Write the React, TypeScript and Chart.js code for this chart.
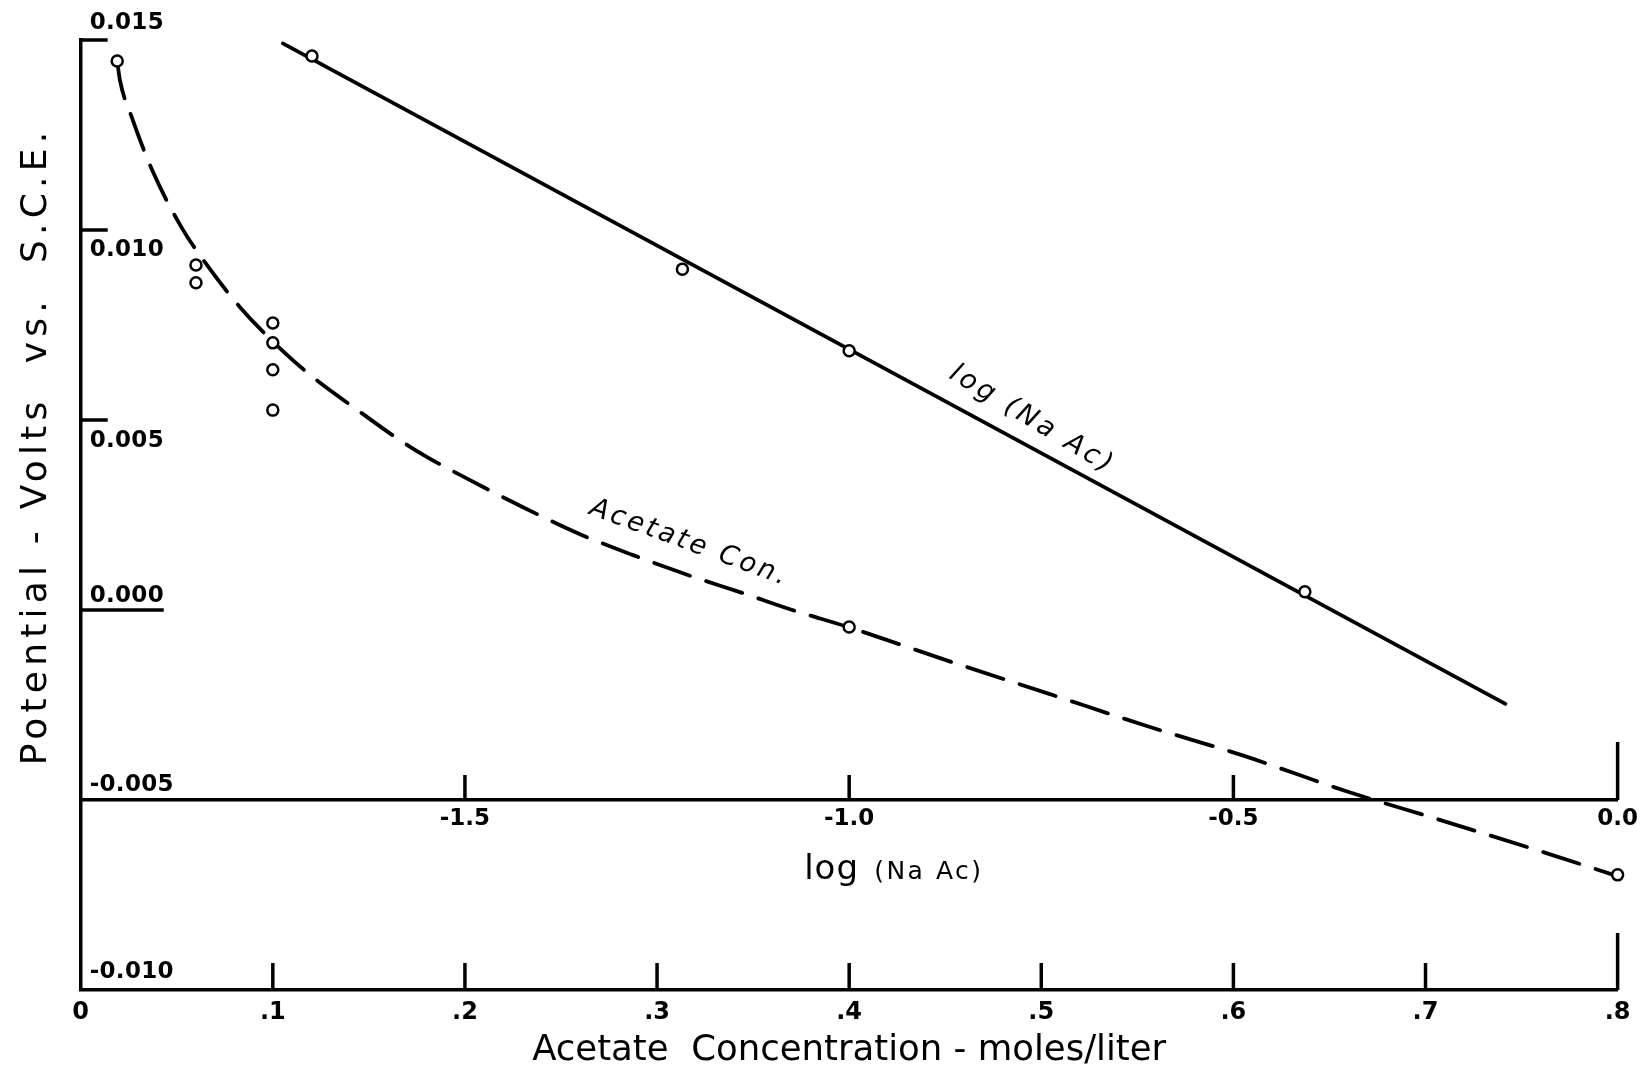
import React, { useEffect, useRef } from "react";
import { Chart, registerables } from "chart.js";

Chart.register(...registerables);

// ---------------- data ----------------
// measured points, acetate concentration (moles/liter) vs potential (V vs S.C.E.)
const acetateConc = [0.019, 0.06, 0.06, 0.1, 0.1, 0.1, 0.1, 0.4, 0.8];
const acetatePotential = [0.01445, 0.00908, 0.00861, 0.00755, 0.00703, 0.00632, 0.00526, -0.00045, -0.00697];

// hand-drawn dashed curve read along its path
const acetateCurveConc = [
  0.019, 0.0204, 0.0267, 0.0376, 0.0527, 0.0657, 0.0829, 0.1047, 0.1208, 0.1463,
  0.1661, 0.1801, 0.2014, 0.23, 0.2596, 0.2872, 0.3179, 0.3444, 0.3704, 0.3995,
  0.4552, 0.5025, 0.5566, 0.6044, 0.66, 0.7027, 0.7531, 0.7978,
];
const acetateCurvePotential = [
  0.01445, 0.01395, 0.01295, 0.01153, 0.01005, 0.00908, 0.00797, 0.00684, 0.00613, 0.00518,
  0.00447, 0.00403, 0.00345, 0.00271, 0.002, 0.00145, 0.00089, 0.00045, 0.0, -0.00045,
  -0.0014, -0.00218, -0.00308, -0.00382, -0.00479, -0.00545, -0.00624, -0.00697,
];

// measured points against log(NaAc)
const logNaAc = [-1.699, -1.217, -1.0, -0.407];
const logPotential = [0.01458, 0.00897, 0.00682, 0.00048];

// straight fitted line (end points)
const logFitX = [-1.737, -0.146];
const logFitY = [0.01491, -0.00247];

// ticks
const concTicks = [0, 0.1, 0.2, 0.3, 0.4, 0.5, 0.6, 0.7, 0.8];
const concTickLabels = ["0", ".1", ".2", ".3", ".4", ".5", ".6", ".7", ".8"];
const logTicks = [-1.5, -1.0, -0.5, 0.0];
const logTickLabels = ["-1.5", "-1.0", "-0.5", "0.0"];
const potentialTicks = [0.015, 0.01, 0.005, 0.0, -0.005, -0.01];
const potentialTickLabels = ["0.015", "0.010", "0.005", "0.000", "-0.005", "-0.010"];
const logAxisAt = -0.005;

// texts
const xTitle = "Acetate  Concentration - moles/liter";
const yTitle = "Potential - Volts  vs.  S.C.E.";
const logTitleMain = "log";
const logTitleSub = "(Na Ac)";
const acetateCurveLabel = "Acetate Con.";
const logLineLabel = "log (Na Ac)";

// ---------------- styles ----------------
const W = 1643;
const H = 1079;
const INK = "#000";
const FONT = "'DejaVu Sans', 'Liberation Sans', sans-serif";
const AXIS_W = 3.5;
const potentialTickLen = [27, 27, 27, 83, 0, 0];
const potentialLabelShift = [-17, 20, 21, -14, -15, -18];
const concTickLen = [0, 27, 27, 27, 27, 27, 27, 27, 57];
const logTickLen = [25, 25, 25, 58];

function drawText(
  ctx: CanvasRenderingContext2D,
  text: string,
  x: number,
  y: number,
  font: string,
  align: CanvasTextAlign,
  baseline: CanvasTextBaseline,
  angleDeg: number,
  spacing: number
) {
  ctx.save();
  ctx.translate(x, y);
  ctx.rotate((angleDeg * Math.PI) / 180);
  ctx.font = font;
  ctx.textAlign = align;
  ctx.textBaseline = baseline;
  (ctx as any).letterSpacing = spacing + "px";
  ctx.fillStyle = INK;
  ctx.fillText(text, 0, 0);
  ctx.restore();
}

const decorPlugin = {
  id: "decor",
  afterDraw(chart: any) {
    const ctx: CanvasRenderingContext2D = chart.ctx;
    const xs = chart.scales.x;
    const x2 = chart.scales.x2;
    const ys = chart.scales.y;
    const ca = chart.chartArea;
    ctx.save();
    ctx.strokeStyle = INK;
    ctx.fillStyle = INK;
    ctx.lineWidth = AXIS_W;
    ctx.lineCap = "butt";
    const seg = (a: number, b: number, c: number, d: number) => {
      ctx.beginPath();
      ctx.moveTo(a, b);
      ctx.lineTo(c, d);
      ctx.stroke();
    };
    // y-axis inward ticks
    potentialTicks.forEach((v, i) => {
      const len = potentialTickLen[i];
      if (!len) return;
      const py = ys.getPixelForValue(v);
      seg(ca.left, py, ca.left + len, py);
    });
    // y tick labels
    potentialTicks.forEach((v, i) => {
      drawText(ctx, potentialTickLabels[i], ca.left + 9, ys.getPixelForValue(v) + potentialLabelShift[i],
        `bold 23px ${FONT}`, "left", "middle", 0, 0.3);
    });
    // concentration axis upward ticks
    concTicks.forEach((v, i) => {
      const len = concTickLen[i];
      if (!len) return;
      const px = xs.getPixelForValue(v);
      seg(px, ca.bottom, px, ca.bottom - len);
    });
    // log axis upward ticks
    const yLog = ys.getPixelForValue(logAxisAt);
    logTicks.forEach((v, i) => {
      const px = x2.getPixelForValue(v);
      seg(px, yLog, px, yLog - logTickLen[i]);
    });
    // log axis title
    const lx = x2.getPixelForValue(-1.0) - 45;
    drawText(ctx, logTitleMain, lx, yLog + 79, `34px ${FONT}`, "left", "alphabetic", 0, 1);
    drawText(ctx, logTitleSub, lx + 70, yLog + 79, `25px ${FONT}`, "left", "alphabetic", 0, 2.5);
    // y title
    drawText(ctx, yTitle, 46, 446, `36px ${FONT}`, "center", "alphabetic", -90, 5.2);
    // curve labels
    drawText(ctx, acetateCurveLabel, xs.getPixelForValue(0.3168), ys.getPixelForValue(0.00176),
      `italic 27px ${FONT}`, "center", "middle", 20, 3);
    drawText(ctx, logLineLabel, x2.getPixelForValue(-0.762), ys.getPixelForValue(0.005),
      `italic 27px ${FONT}`, "center", "middle", 31, 3.5);
    ctx.restore();
  },
};

export default function App() {
  const ref = useRef<HTMLCanvasElement>(null);
  useEffect(() => {
    const canvas = ref.current;
    if (!canvas) return;
    const pts = (xs: number[], ys: number[]) => xs.map((x, i) => ({ x, y: ys[i] }));
    const chart = new Chart(canvas, {
      type: "scatter",
      data: {
        datasets: [
          {
            label: "Acetate concentration data",
            xAxisID: "x",
            yAxisID: "y",
            data: pts(acetateConc, acetatePotential),
            showLine: false,
            pointRadius: 5.5,
            pointBorderWidth: 2.5,
            pointBorderColor: INK,
            pointBackgroundColor: "#fff",
            clip: false,
          } as any,
          {
            label: "log(NaAc) data",
            xAxisID: "x2",
            yAxisID: "y",
            data: pts(logNaAc, logPotential),
            showLine: false,
            pointRadius: 5.5,
            pointBorderWidth: 2.5,
            pointBorderColor: INK,
            pointBackgroundColor: "#fff",
            clip: false,
          },
          {
            label: acetateCurveLabel,
            xAxisID: "x",
            yAxisID: "y",
            data: pts(acetateCurveConc, acetateCurvePotential),
            showLine: true,
            borderColor: INK,
            borderWidth: 3.8,
            borderDash: [38, 17],
            borderCapStyle: "round",
            pointRadius: 0,
            cubicInterpolationMode: "monotone",
            fill: false,
            clip: false,
          },
          {
            label: logLineLabel,
            xAxisID: "x2",
            yAxisID: "y",
            data: pts(logFitX, logFitY),
            showLine: true,
            borderColor: INK,
            borderWidth: 3.8,
            borderCapStyle: "round",
            pointRadius: 0,
            fill: false,
          },
        ],
      },
      options: {
        responsive: false,
        animation: false,
        devicePixelRatio: 1,
        layout: { padding: { top: 40, right: 24, bottom: 0, left: 0 } },
        plugins: { legend: { display: false }, tooltip: { enabled: false } },
        scales: {
          x: {
            type: "linear",
            axis: "x",
            position: "bottom",
            min: 0,
            max: 0.8,
            afterBuildTicks: (s: any) => {
              s.ticks = concTicks.map((v) => ({ value: v }));
            },
            afterFit: (s: any) => {
              s.height = 89;
            },
            ticks: {
              autoSkip: false,
              maxRotation: 0,
              padding: 8,
              color: INK,
              font: { family: FONT, size: 24, weight: "bold" },
              callback: (_v: any, i: number) => concTickLabels[i],
            },
            grid: { display: false, drawTicks: false },
            border: { display: true, color: INK, width: AXIS_W },
            title: {
              display: true,
              text: xTitle,
              color: INK,
              font: { family: FONT, size: 35.5 },
              padding: { top: 0, bottom: 7 },
            },
          },
          x2: {
            type: "linear",
            axis: "x",
            position: { y: logAxisAt },
            min: -2,
            max: 0,
            afterBuildTicks: (s: any) => {
              s.ticks = logTicks.map((v) => ({ value: v }));
            },
            ticks: {
              autoSkip: false,
              maxRotation: 0,
              padding: 5,
              color: INK,
              font: { family: FONT, size: 23, weight: "bold" },
              callback: (_v: any, i: number) => logTickLabels[i],
            },
            grid: { display: false, drawTicks: false },
            border: { display: true, color: INK, width: AXIS_W },
          } as any,
          y: {
            type: "linear",
            position: "left",
            min: -0.01,
            max: 0.015,
            afterFit: (s: any) => {
              s.width = 80.7;
            },
            ticks: { display: false },
            grid: { display: false, drawTicks: false },
            border: { display: true, color: INK, width: AXIS_W },
          },
        },
      } as any,
      plugins: [decorPlugin],
    });
    return () => chart.destroy();
  }, []);
  return (
    <div style={{ position: "absolute", left: 0, top: 0, width: W, height: H, background: "#fff" }}>
      <canvas ref={ref} width={W} height={H} style={{ display: "block", width: W, height: H }} />
    </div>
  );
}
